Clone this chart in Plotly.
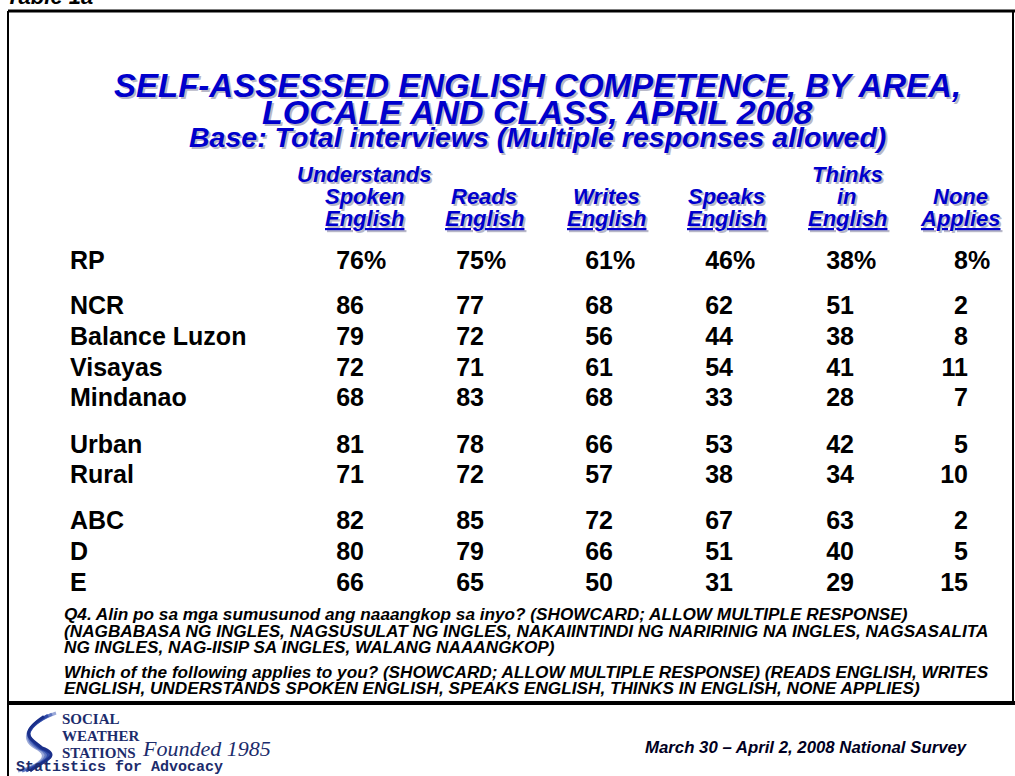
import plotly.graph_objects as go

# --- data ---
row_labels = ["RP", "NCR", "Balance Luzon", "Visayas", "Mindanao",
              "Urban", "Rural", "ABC", "D", "E"]
understands = [76, 86, 79, 72, 68, 81, 71, 82, 80, 66]
reads = [75, 77, 72, 71, 83, 78, 72, 85, 79, 65]
writes = [61, 68, 56, 61, 68, 66, 57, 72, 66, 50]
speaks = [46, 62, 44, 54, 33, 53, 38, 67, 51, 31]
thinks = [38, 51, 38, 41, 28, 42, 34, 63, 40, 29]
none_applies = [8, 2, 8, 11, 7, 5, 10, 2, 5, 15]
col_headers = [
    ["Understands", "Spoken", "English"],
    ["", "Reads", "English"],
    ["", "Writes", "English"],
    ["", "Speaks", "English"],
    ["Thinks", "in", "English"],
    ["", "None", "Applies"],
]

title_lines = ["SELF-ASSESSED ENGLISH COMPETENCE, BY AREA,",
               "LOCALE AND CLASS, APRIL 2008"]
subtitle = "Base: Total interviews (Multiple responses allowed)"
notes = [
    "Q4. Alin po sa mga sumusunod ang naaangkop sa inyo? (SHOWCARD; ALLOW MULTIPLE RESPONSE)",
    "(NAGBABASA NG INGLES, NAGSUSULAT NG INGLES, NAKAIINTINDI NG NARIRINIG NA INGLES, NAGSASALITA",
    "NG INGLES, NAG-IISIP SA INGLES, WALANG NAAANGKOP)",
    "Which of the following applies to you? (SHOWCARD; ALLOW MULTIPLE RESPONSE) (READS ENGLISH, WRITES",
    "ENGLISH, UNDERSTANDS SPOKEN ENGLISH, SPEAKS ENGLISH, THINKS IN ENGLISH, NONE APPLIES)",
]
survey_note = "March 30 \u2013 April 2, 2008 National Survey"

# --- layout (pixel positions on a 1015 x 776 canvas) ---
W, H = 1015, 776
col_right = [364, 484, 613, 733, 854, 968]
col_center = [364, 484, 606, 726, 847, 960]
row_y = [263, 308, 339, 370, 400, 447, 477, 523, 554, 585]
header_y = [174, 196, 218]
BLUE = "#0000cc"
SHADOW = "#b8b8c8"
ARIAL = "Arial, Liberation Sans, sans-serif"
NAVY = "#1c2c6c"

fig = go.Figure()

# row labels
fig.add_trace(go.Scatter(
    x=[70] * len(row_labels), y=row_y, mode="text", text=row_labels,
    textposition="middle right",
    textfont=dict(family=ARIAL, size=25, color="black", weight="bold"),
    hoverinfo="skip", showlegend=False))

# numbers, right aligned on the digits
columns = [understands, reads, writes, speaks, thinks, none_applies]
for cx, vals in zip(col_right, columns):
    fig.add_trace(go.Scatter(
        x=[cx] * len(vals), y=row_y, mode="text",
        text=[str(v) for v in vals], textposition="middle left",
        textfont=dict(family=ARIAL, size=25, color="black", weight="bold"),
        hoverinfo="skip", showlegend=False))
# percent signs on the RP row
fig.add_trace(go.Scatter(
    x=col_right, y=[row_y[0]] * len(col_right), mode="text",
    text=["%"] * len(col_right), textposition="middle right",
    textfont=dict(family=ARIAL, size=25, color="black", weight="bold"),
    hoverinfo="skip", showlegend=False))

ann = []


def txt(x, y, s, size, color="black", family=ARIAL, xanchor="center",
        bold=True, italic=True, shadow=False):
    t = s
    if bold:
        t = "<b>" + t + "</b>"
    if italic:
        t = "<i>" + t + "</i>"
    if shadow:
        ann.append(dict(x=x + 2, y=y + 2, text=t, showarrow=False,
                        xref="x", yref="y", xanchor=xanchor, yanchor="middle",
                        font=dict(family=family, size=size, color=SHADOW)))
    ann.append(dict(x=x, y=y, text=t, showarrow=False, xref="x", yref="y",
                    xanchor=xanchor, yanchor="middle",
                    font=dict(family=family, size=size, color=color)))


# title
txt(537, 85, title_lines[0], 33, BLUE, shadow=True)
txt(537, 112, title_lines[1], 34, BLUE, shadow=True)
txt(537, 137, subtitle, 28.5, BLUE, shadow=True)

# column headers
for cx, lines in zip(col_center, col_headers):
    for i, line in enumerate(lines):
        if not line:
            continue
        s = "<u>" + line + "</u>" if i == 2 else line
        txt(cx, header_y[i], s, 22, BLUE, shadow=True)

# question notes
note_y = [614, 631, 647, 672, 688]
for ny, line in zip(note_y, notes):
    txt(62, ny, line, 17.2, "black", xanchor="left")

# footer
txt(643, 747, survey_note, 16.8, "#000022", xanchor="left")

# clipped slide label at the very top
ann.append(dict(x=4, y=11, text="<b><i>Table 1a</i></b>", showarrow=False,
                xref="x", yref="y", xanchor="left", yanchor="bottom",
                font=dict(family=ARIAL, size=22, color="black")))

# logo text
SERIF = "Liberation Serif, Times New Roman, serif"
txt(60, 719, "SOCIAL", 15, NAVY, family=SERIF, xanchor="left", italic=False)
txt(60, 736, "WEATHER", 15, NAVY, family=SERIF, xanchor="left", italic=False)
txt(60, 753, "STATIONS", 15, NAVY, family=SERIF, xanchor="left", italic=False)
txt(140, 748, "Founded 1985", 22, NAVY, family=SERIF, xanchor="left", bold=False)
txt(14, 767, "Statistics for Advocacy", 15, NAVY,
    family="Liberation Mono, DejaVu Sans Mono, monospace", xanchor="left",
    italic=False)

shapes = [
    # frame
    dict(type="line", x0=8, y0=11, x1=W, y1=11, line=dict(color="black", width=3)),
    dict(type="line", x0=8, y0=11, x1=8, y1=H, line=dict(color="black", width=2)),
    dict(type="line", x0=1013, y0=11, x1=1013, y1=703, line=dict(color="black", width=2)),
    dict(type="line", x0=8, y0=703, x1=W, y1=703, line=dict(color="black", width=4)),
]
# logo swoosh
swoosh_cols = ["#9aa8d8", "#6077c0", "#2f4aa8", "#1a2f8a"]
for i, c in enumerate(swoosh_cols):
    d = i * 4
    shapes.append(dict(
        type="path",
        path=(f"M {56 - d} {713 + d * 0.3} C {30 - d} {722 + d} {18 + d} {738} "
              f"{36 + d * 0.5} {748} C {52 + d} {756} {40} {766 - d * 0.3} {18 + d} {771}"),
        line=dict(color=c, width=3), xref="x", yref="y"))

fig.update_layout(
    width=W, height=H,
    margin=dict(l=0, r=0, t=0, b=0),
    paper_bgcolor="white", plot_bgcolor="white",
    xaxis=dict(range=[0, W], visible=False, fixedrange=True),
    yaxis=dict(range=[H, 0], visible=False, fixedrange=True),
    annotations=ann, shapes=shapes, showlegend=False,
)

fig.write_html("out.html", config={"displayModeBar": False},
               post_script="document.body.style.margin='0';")
